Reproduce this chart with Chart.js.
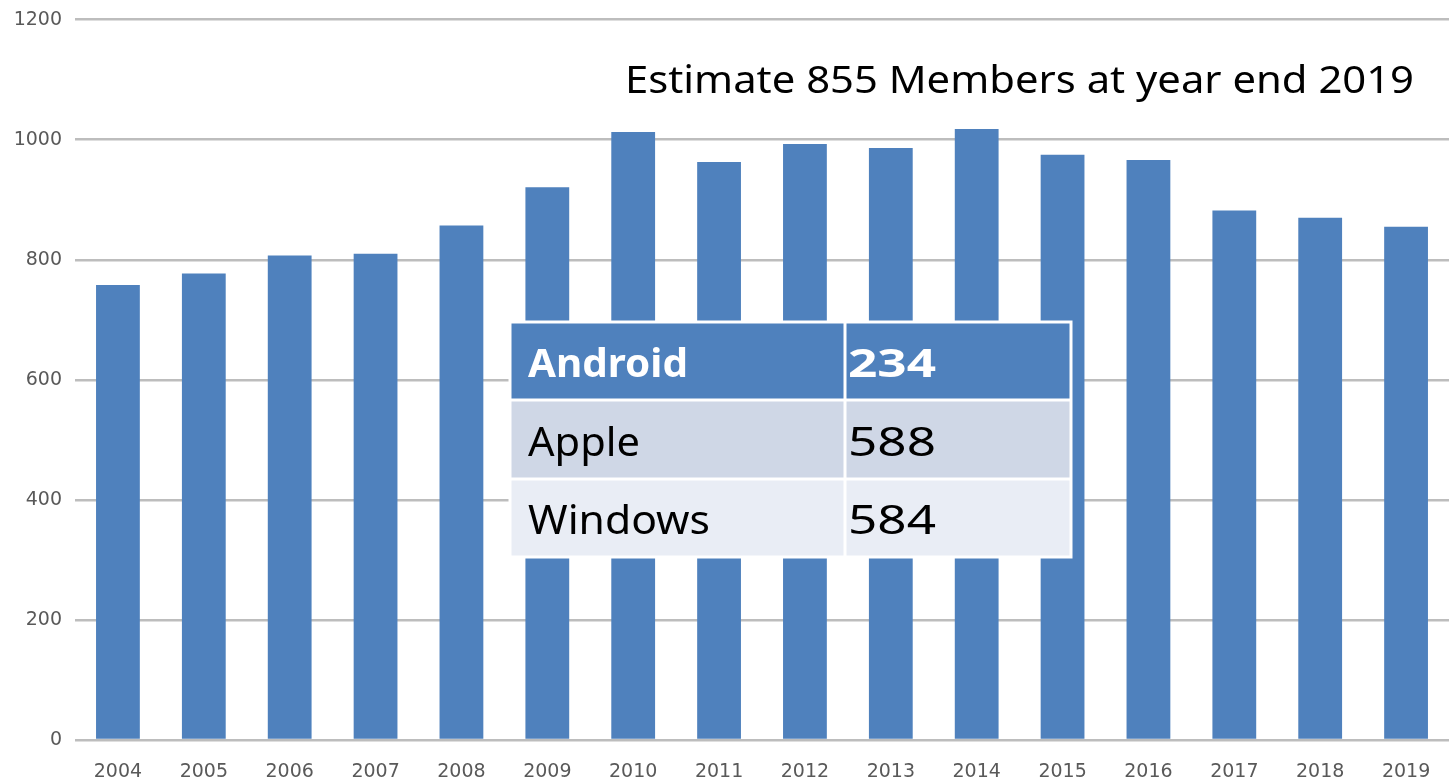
<!DOCTYPE html>
<html>
<head>
<meta charset="utf-8">
<script src="https://cdn.jsdelivr.net/npm/chart.js@4.4.1/dist/chart.umd.min.js"></script>
<style>
  html, body { margin: 0; padding: 0; background: #fff; }
  #wrap { width: 1449px; height: 780px; position: relative; }
</style>
</head>
<body>
<div id="wrap"><canvas id="chart"></canvas></div>
<script>
// --- chart data ---
const years = ['2004', '2005', '2006', '2007', '2008', '2009', '2010', '2011',
  '2012', '2013', '2014', '2015', '2016', '2017', '2018', '2019'];
const members = [758, 777, 807, 810, 857, 921, 1013, 963, 993, 986, 1018, 975, 966, 882, 870, 855];

const note = 'Estimate 855 Members at year end 2019';

// inset table: platform / count
const platforms = ['Android', 'Apple', 'Windows'];
const platformCounts = [234, 588, 584];

// draws text stretched/squeezed to a given width
const fitText = (ctx, text, x, y, width) => {
  const w = ctx.measureText(text).width;
  ctx.save();
  ctx.translate(x, y);
  ctx.scale(width / w, 1);
  ctx.fillText(text, 0, 0);
  ctx.restore();
};

const overlay = {
  id: 'overlay',
  afterDraw(chart) {
    const ctx = chart.ctx;
    ctx.save();
    ctx.textBaseline = 'alphabetic';
    ctx.textAlign = 'left';

    // --- note at top right ---
    ctx.fillStyle = '#000';
    ctx.font = '38px "Noto Sans"';
    fitText(ctx, note, 625, 93, 789);

    // --- table ---
    const left = 510, mid = 845, right = 1071;
    const rows = [[322, 400], [400, 479], [479, 557]];
    const fills = ['#4f81bd', '#cfd7e6', '#e9edf5'];
    const nameW = [160, 112, 182];
    rows.forEach(([t, b], i) => {
      ctx.fillStyle = fills[i];
      ctx.fillRect(left, t, right - left, b - t);
    });
    // white cell lines
    ctx.strokeStyle = '#fff';
    ctx.lineWidth = 3;
    ctx.strokeRect(left, 322, right - left, 557 - 322);
    ctx.beginPath();
    ctx.moveTo(mid, 322); ctx.lineTo(mid, 557);
    ctx.moveTo(left, 400); ctx.lineTo(right, 400);
    ctx.moveTo(left, 479); ctx.lineTo(right, 479);
    ctx.stroke();

    rows.forEach(([t, b], i) => {
      const base = b - 23;
      ctx.fillStyle = i === 0 ? '#fff' : '#000';
      ctx.font = (i === 0 ? 'bold ' : '') + '40px "Noto Sans"';
      fitText(ctx, platforms[i], 528, base, nameW[i]);
      fitText(ctx, String(platformCounts[i]), 848, base, 88);
    });
    ctx.restore();
  }
};

new Chart(document.getElementById('chart'), {
  type: 'bar',
  data: {
    labels: years,
    datasets: [{
      data: members,
      backgroundColor: '#4f81bd',
      barPercentage: 0.51,
      categoryPercentage: 1.0
    }]
  },
  options: {
    responsive: true,
    maintainAspectRatio: false,
    animation: false,
    layout: { padding: { top: 13, right: 0, bottom: 0, left: 0 } },
    plugins: {
      legend: { display: false },
      tooltip: { enabled: false }
    },
    scales: {
      x: {
        grid: { display: false },
        border: { display: false },
        ticks: {
          color: '#595959',
          font: { family: 'DejaVu Sans', size: 19 },
          padding: 13,
          maxRotation: 0
        },
        afterFit: s => { s.height = 40; }
      },
      y: {
        min: 0,
        max: 1200,
        ticks: {
          stepSize: 200,
          color: '#595959',
          font: { family: 'DejaVu Sans', size: 19, lineHeight: 0.7 },
          padding: 13,
          callback: v => String(v)
        },
        grid: { color: '#bdbdbd', lineWidth: 2.5, drawTicks: false },
        border: { display: false },
        afterFit: s => { s.width = 75; }
      }
    }
  },
  plugins: [overlay]
});
</script>
</body>
</html>
